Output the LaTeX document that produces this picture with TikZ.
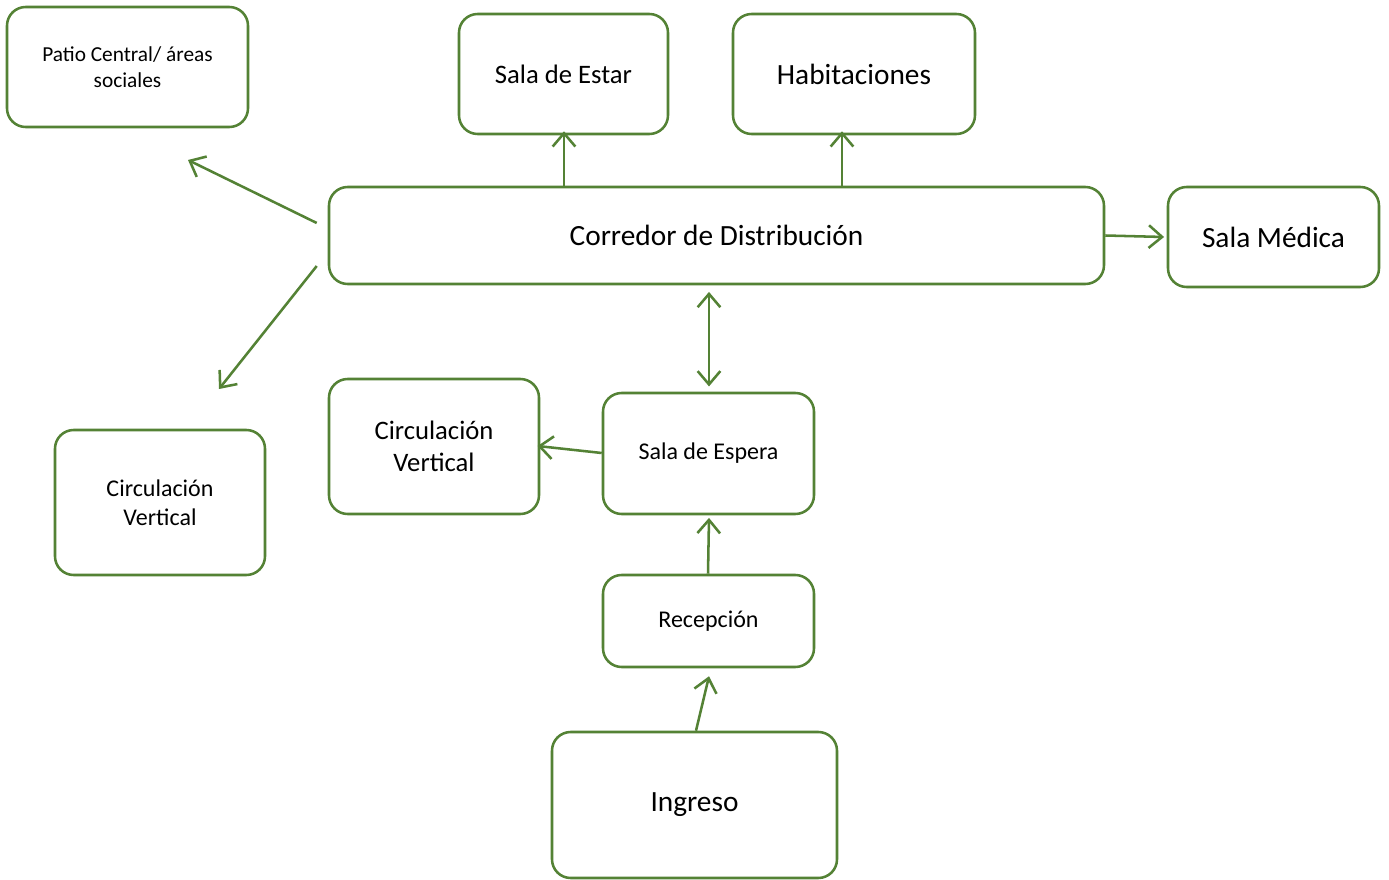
\documentclass[tikz,border=0pt]{standalone}
\usepackage{fontspec}
\setmainfont{Carlito}
\usetikzlibrary{arrows.meta,calc}
\definecolor{grn}{RGB}{84,130,53}
\newcommand{\fs}[2]{\fontsize{#1}{#2}\selectfont}
\tikzset{
  box/.style={draw=grn, line width=1.9pt, rounded corners=14pt, inner sep=0pt, align=center, text=black},
  arr/.style={draw=grn, line width=1.9pt, -{Straight Barb[length=10pt,width=17pt,line width=1.9pt]}},
  darr/.style={draw=grn, line width=1.9pt, {Straight Barb[length=10pt,width=17pt,line width=1.9pt]}-{Straight Barb[length=10pt,width=17pt,line width=1.9pt]}},
}
\begin{document}
\begin{tikzpicture}[x=0.75pt,y=-0.75pt]
\fill[white] (0,0) rectangle (1389,880);
\useasboundingbox (0,0) rectangle (1389,880);
\node[box, minimum width=180.75pt, minimum height=90pt, font=\fs{16}{19.5}] (patio) at (127.5,67) {Patio Central/ áreas\\sociales};
\node[box, minimum width=156.75pt, minimum height=90pt, font=\fs{20}{24}] (estar) at (563.5,74) {Sala de Estar};
\node[box, minimum width=181.5pt, minimum height=90pt, font=\fs{22}{26}] (hab) at (854,74) {Habitaciones};
\node[box, minimum width=581.25pt, minimum height=72.75pt, font=\fs{22}{26}] (cor) at (716.5,235.5) {Corredor de Distribución};
\node[box, minimum width=158.25pt, minimum height=75pt, font=\fs{22}{26}] (med) at (1273.5,237) {Sala Médica};
\node[box, minimum width=157.5pt, minimum height=108.75pt, font=\fs{18}{22}] (cv1) at (160,502.5) {Circulación\\Vertical};
\node[box, minimum width=157.5pt, minimum height=101.25pt, font=\fs{20}{24}] (cv2) at (434,446.5) {Circulación\\Vertical};
\node[box, minimum width=158.25pt, minimum height=90.75pt, font=\fs{18}{22}] (esp) at (708.5,453.5) {\raisebox{-2pt}{Sala de Espera}};
\node[box, minimum width=158.25pt, minimum height=69pt, font=\fs{18}{22}] (rec) at (708.5,621) {\raisebox{-2pt}{Recepción}};
\node[box, minimum width=213.75pt, minimum height=109.5pt, font=\fs{22}{26}] (ing) at (694.5,805) {\raisebox{-3pt}{Ingreso}};
\coordinate (p1) at (188,160);
\coordinate (p2) at (219,389);
\draw[arr] ($(cor.west)+(-11,-12.5)$) -- (p1);
\draw[arr] ($(cor.west)+(-11,30.5)$) -- (p2);
\draw[arr] (cor.north -| 564,0) -- ([yshift=3pt]estar.south -| 564,0);
\draw[arr] (cor.north -| 842,0) -- ([yshift=3pt]hab.south -| 842,0);
\draw[arr] (cor.east) -- ([xshift=-2pt]med.west);
\draw[darr] ([yshift=-5pt]cor.south -| 709,0) -- ([yshift=4pt]esp.north -| 709,0);
\draw[arr] (esp.west |- 0,453) -- ([xshift=-2pt]cv2.east |- 0,446);
\draw[arr] (rec.north -| 708,0) -- ([yshift=-2pt]esp.south -| 709,0);
\draw[arr] (ing.north -| 696,0) -- ([yshift=-6pt]rec.south -| 709,0);
\end{tikzpicture}
\end{document}
